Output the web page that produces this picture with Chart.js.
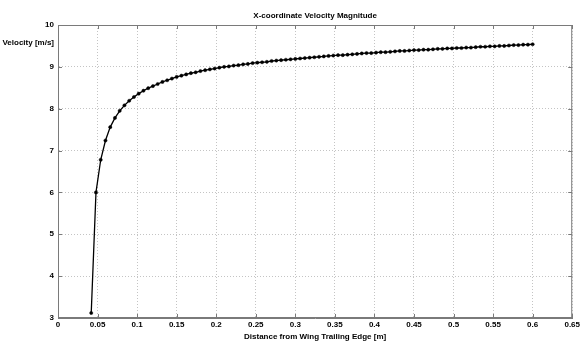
<!DOCTYPE html>
<html>
  <head>
    <title>X-coordinate Velocity Magnitude</title>
    <script src="https://cdn.jsdelivr.net/npm/chart.js"></script>
    <style>
      html, body { margin: 0; padding: 0; background: #fff; }
      #wrap { width: 582px; height: 347px; }
    </style>
  </head>
  <body>
    <div id="wrap"><canvas id="myChart"></canvas></div>

    <script>
      const chartTitle = "X-coordinate Velocity Magnitude";
      const xTitle = "Distance from Wing Trailing Edge [m]";
      const yTitle = "Velocity [m/s]";

      // distance from trailing edge [m]
      const distance = [
        0.042, 0.048, 0.054, 0.060, 0.066, 0.072, 0.078, 0.084, 0.090, 0.096,
        0.102, 0.108, 0.114, 0.120, 0.126, 0.132, 0.138, 0.144, 0.150, 0.156,
        0.162, 0.168, 0.174, 0.180, 0.186, 0.192, 0.198, 0.204, 0.210, 0.216,
        0.222, 0.228, 0.234, 0.240, 0.246, 0.252, 0.258, 0.264, 0.270, 0.276,
        0.282, 0.288, 0.294, 0.300, 0.306, 0.312, 0.318, 0.324, 0.330, 0.336,
        0.342, 0.348, 0.354, 0.360, 0.366, 0.372, 0.378, 0.384, 0.390, 0.396,
        0.402, 0.408, 0.414, 0.420, 0.426, 0.432, 0.438, 0.444, 0.450, 0.456,
        0.462, 0.468, 0.474, 0.480, 0.486, 0.492, 0.498, 0.504, 0.510, 0.516,
        0.522, 0.528, 0.534, 0.540, 0.546, 0.552, 0.558, 0.564, 0.570, 0.576,
        0.582, 0.588, 0.594, 0.600
      ];

      // velocity magnitude [m/s]
      const velocity = [
        3.12, 6.00, 6.78, 7.24, 7.56, 7.78, 7.95, 8.08, 8.19, 8.28,
        8.36, 8.43, 8.49, 8.54, 8.59, 8.64, 8.68, 8.72, 8.76, 8.79,
        8.82, 8.85, 8.87, 8.90, 8.92, 8.94, 8.96, 8.98, 9.00, 9.01,
        9.03, 9.04, 9.06, 9.07, 9.09, 9.10, 9.11, 9.12, 9.14, 9.15,
        9.16, 9.17, 9.18, 9.19, 9.20, 9.21, 9.22, 9.23, 9.24, 9.25,
        9.26, 9.27, 9.28, 9.28, 9.29, 9.30, 9.31, 9.32, 9.33, 9.33,
        9.34, 9.35, 9.35, 9.36, 9.37, 9.38, 9.38, 9.39, 9.40, 9.40,
        9.41, 9.41, 9.42, 9.43, 9.43, 9.44, 9.44, 9.45, 9.45, 9.46,
        9.46, 9.47, 9.48, 9.48, 9.49, 9.49, 9.50, 9.50, 9.51, 9.52,
        9.52, 9.53, 9.53, 9.54
      ];

      const xTicks = [0, 0.05, 0.1, 0.15, 0.2, 0.25, 0.3, 0.35, 0.4, 0.45, 0.5, 0.55, 0.6, 0.65];
      const yTicks = [3, 4, 5, 6, 7, 8, 9, 10];

      const FONT = "'Liberation Sans', Arial, sans-serif";
      const axisColor = "#7a7a7a";

      // titles, box and inward tick marks (matlab look)
      const matlabFrame = {
        id: "matlabFrame",
        afterDraw(chart) {
          const ctx = chart.ctx;
          const a = chart.chartArea;
          const xs = chart.scales.x;
          const ys = chart.scales.y;
          ctx.save();
          ctx.strokeStyle = axisColor;
          ctx.lineWidth = 1;
          ctx.strokeRect(a.left + 0.5, a.top + 0.5, a.right - a.left - 1, a.bottom - a.top - 1);
          ctx.beginPath();
          xTicks.forEach((v) => {
            const px = Math.round(xs.getPixelForValue(v)) + 0.5;
            ctx.moveTo(px, a.bottom); ctx.lineTo(px, a.bottom - 4);
            ctx.moveTo(px, a.top); ctx.lineTo(px, a.top + 4);
          });
          yTicks.forEach((v) => {
            const py = Math.round(ys.getPixelForValue(v)) + 0.5;
            ctx.moveTo(a.left, py); ctx.lineTo(a.left + 4, py);
            ctx.moveTo(a.right, py); ctx.lineTo(a.right - 4, py);
          });
          ctx.stroke();

          ctx.fillStyle = "#000";
          ctx.font = "bold 8px " + FONT;
          ctx.textBaseline = "middle";
          ctx.textAlign = "center";
          ctx.fillText(chartTitle, (a.left + a.right) / 2, 16);
          ctx.fillText(xTitle, (a.left + a.right) / 2, 337);
          ctx.textAlign = "right";
          ctx.fillText(yTitle, 54, 43);
          ctx.restore();
        }
      };

      const ctx = document.getElementById("myChart").getContext("2d");
      const myChart = new Chart(ctx, {
        type: "line",
        data: {
          datasets: [
            {
              label: "Velocity",
              data: distance.map((d, i) => ({ x: d, y: velocity[i] })),
              borderColor: "#000",
              backgroundColor: "#000",
              borderWidth: 1.3,
              pointRadius: 1.6,
              pointBorderWidth: 0.5,
              pointStyle: "circle",
              tension: 0,
            },
          ],
        },
        options: {
          responsive: true,
          maintainAspectRatio: false,
          animation: false,
          layout: { padding: { top: 25, right: 7, left: 0, bottom: 0 } },
          plugins: {
            legend: { display: false },
            tooltip: { enabled: false },
          },
          scales: {
            x: {
              type: "linear",
              min: 0,
              max: 0.65,
              afterBuildTicks: (s) => { s.ticks = xTicks.map((v) => ({ value: v })); },
              afterFit: (s) => { s.height = 29; },
              ticks: {
                color: "#000",
                font: { family: FONT, size: 8, weight: "bold" },
                padding: 2,
                maxRotation: 0,
                autoSkip: false,
                callback: (v) => String(Number(v.toFixed(2))),
              },
              grid: {
                color: "#c4c4c4",
                lineWidth: 1,
                drawTicks: false,
              },
              border: { display: true, color: axisColor, dash: [1, 2] },
            },
            y: {
              type: "linear",
              min: 3,
              max: 10,
              afterBuildTicks: (s) => { s.ticks = yTicks.map((v) => ({ value: v })); },
              afterFit: (s) => { s.width = 58; },
              ticks: {
                color: "#000",
                font: { family: FONT, size: 8, weight: "bold" },
                padding: 4,
                autoSkip: false,
              },
              grid: {
                color: "#c4c4c4",
                lineWidth: 1,
                drawTicks: false,
              },
              border: { display: true, color: axisColor, dash: [1, 2] },
            },
          },
        },
        plugins: [matlabFrame],
      });
    </script>
  </body>
</html>
